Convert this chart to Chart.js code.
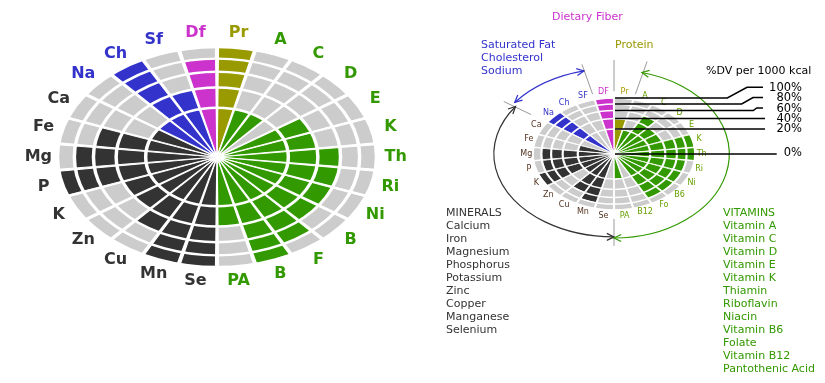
<!DOCTYPE html>
<html><head><meta charset="utf-8">
<script src="https://cdn.jsdelivr.net/npm/chart.js@4"></script>
<style>
html,body{margin:0;padding:0;background:#fff;width:825px;height:383px;overflow:hidden;font-family:"DejaVu Sans",Verdana,sans-serif;}
canvas{position:absolute;}
#c1{left:0;top:0;}
#c2{left:440px;top:0;}
.t{position:absolute;font-size:11px;line-height:13px;white-space:nowrap;}
</style></head><body>
<canvas id="c1" width="440" height="320"></canvas>
<canvas id="c2" width="385" height="383"></canvas>
<div class="t" id="fib" style="left:552px;top:10px;color:#cc33cc">Dietary Fiber</div>
<div class="t" id="pro" style="left:615px;top:38px;color:#999900">Protein</div>
<div class="t" id="lim" style="left:481px;top:38px;color:#3333cc"></div>
<div class="t" id="dv" style="left:706px;top:64px;color:#000">%DV per 1000 kcal</div>
<div class="t" id="pct" style="left:700px;top:0;width:102px;height:170px;color:#000"></div>
<div class="t" id="min" style="left:446px;top:206px;color:#333333"></div>
<div class="t" id="vit" style="left:723px;top:206px;color:#339900"></div>
<script>
// ---------- data ----------
const CATEGORIES_LEFT  = ['Pr','A','C','D','E','K','Th','Ri','Ni','B','F','B','PA','Se','Mn','Cu','Zn','K','P','Mg','Fe','Ca','Na','Ch','Sf','Df'];
const CATEGORIES_RIGHT = ['Pr','A','C','D','E','K','Th','Ri','Ni','B6','Fo','B12','PA','Se','Mn','Cu','Zn','K','P','Mg','Fe','Ca','Na','Ch','SF','DF'];
const GROUPS = ['protein','vitamin','vitamin','vitamin','vitamin','vitamin','vitamin','vitamin','vitamin','vitamin','vitamin','vitamin','vitamin',
                'mineral','mineral','mineral','mineral','mineral','mineral','mineral','mineral','mineral','limit','limit','limit','fiber'];
const VALUES_LEFT  = [100,20,20,0,40,40,60,60,60,60,80,100,40, 100,100,60,40,40,100,80,60,20, 20,100,40,80];
const VALUES_RIGHT = [40,20,60,40,40,100,100,80,80,80,80,0,20, 0,80,60,20,100,80,80,20,0, 100,0,0,100];
const RING_TICKS = [0,20,40,60,80,100];
const PCT_LABELS = ['100%','80%','60%','40%','20%','0%'];
const PCT_VALUES = [100,80,60,40,20,0];
const LIMIT_NAMES = ['Saturated Fat','Cholesterol','Sodium'];
const MINERAL_NAMES = ['MINERALS','Calcium','Iron','Magnesium','Phosphorus','Potassium','Zinc','Copper','Manganese','Selenium'];
const VITAMIN_NAMES = ['VITAMINS','Vitamin A','Vitamin C','Vitamin D','Vitamin E','Vitamin K','Thiamin','Riboflavin','Niacin','Vitamin B6','Folate','Vitamin B12','Pantothenic Acid'];

const FILL = {protein:'#999900', vitamin:'#339900', mineral:'#333333', limit:'#3333cc', fiber:'#cc33cc'};
const LABEL_L = {protein:'#999900', vitamin:'#339900', mineral:'#333333', limit:'#3333cc', fiber:'#cc33cc'};
const LABEL_R = {protein:'#b39900', vitamin:'#66a000', mineral:'#553322', limit:'#3333cc', fiber:'#cc33cc'};
const SX = 1.45;

document.getElementById('lim').innerHTML = LIMIT_NAMES.join('<br>');
document.getElementById('min').innerHTML = MINERAL_NAMES.join('<br>');
document.getElementById('vit').innerHTML = VITAMIN_NAMES.join('<br>');

function ellipse(sx){return {id:'ellipse',
  beforeDraw(ch){const s=ch.scales.r,c=ch.ctx;c.save();c.translate(s.xCenter,0);c.scale(sx,1);c.translate(-s.xCenter,0);},
  afterDraw(ch){ch.ctx.restore();}};}

function pt(s,theta,f,fx){const R=s.drawingArea;return [s.xCenter+Math.sin(theta)*R*SX*(fx||f), s.yCenter-Math.cos(theta)*R*f];}

function labels(cats,colors,font,fx,fy){return {id:'lbl',afterDraw(ch){
  const s=ch.scales.r,c=ch.ctx,arcs=ch.getDatasetMeta(1).data;
  c.save();c.font=font;c.textAlign='center';c.textBaseline='middle';
  cats.forEach((t,i)=>{const a=arcs[2*i];const th=(a.startAngle+a.endAngle)/2+Math.PI/2;const p=pt(s,th,fy,fx);
    c.fillStyle=colors[GROUPS[i]];c.fillText(t,p[0],p[1]);});
  c.restore();}};}

function wheel(id,cats,vals,gap,bw,gw,pad,extra,lblColors,font,fx,fy){
  const plugins=[ellipse(SX),labels(cats,lblColors,font,fx,fy)];
  if(extra)plugins.push(extra);
  const n=cats.length, segAngle=360/n-gap;
  const angleFn=ctx=>ctx.dataIndex%2?gap:segAngle;
  const bwFn=ctx=>ctx.dataIndex%2?0:bw;
  return new Chart(document.getElementById(id),{
    type:'polarArea',
    data:{labels:cats.flatMap(c=>[c,'']),datasets:[
      {data:vals.flatMap(v=>[Math.sqrt(Math.min(v,100)),0]),backgroundColor:GROUPS.flatMap(g=>[FILL[g],'rgba(0,0,0,0)']),borderColor:'#ffffff',borderWidth:bwFn,angle:angleFn,order:1},
      {data:cats.flatMap(()=>[Math.sqrt(100),0]),backgroundColor:'#cccccc',borderColor:'#ffffff',borderWidth:bwFn,angle:angleFn,order:2}
    ]},
    options:{responsive:false,animation:false,devicePixelRatio:1,layout:{padding:pad},
      plugins:{legend:{display:false},tooltip:{enabled:false}},
      scales:{r:{min:0,max:10,startAngle:gap/2,ticks:{display:false},
        grid:{color:'#ffffff',lineWidth:gw,circular:true,z:1},angleLines:{display:false},pointLabels:{display:false},
        afterBuildTicks:sc=>{sc.ticks=RING_TICKS.map(v=>({value:Math.sqrt(v)}));}}}},
    plugins});
}

wheel('c1',CATEGORIES_LEFT,VALUES_LEFT,1.0,1,2.4,{top:47,bottom:53,left:101,right:107},null,LABEL_L,'bold 16px "DejaVu Sans"',1.12,1.135);

const annot={id:'annot',afterDraw(ch){
  const s=ch.scales.r,c=ch.ctx,n=CATEGORIES_RIGHT.length,step=2*Math.PI/n;
  const cx=s.xCenter,cy=s.yCenter,R=s.drawingArea;
  c.save();
  c.strokeStyle='#999999';c.lineWidth=1;
  [[0,1.12,1.68],[step,1.1,1.7],[-step,1.1,1.65],[-4*step,1.24,1.65],[Math.PI,1.16,1.64]].forEach(([th,a,b])=>{
    const p=pt(s,th,a),q=pt(s,th,b);c.beginPath();c.moveTo(p[0],p[1]);c.lineTo(q[0],q[1]);c.stroke();});
  function arc(col,rx,ry,t1,t2,ccw,heads){
    c.strokeStyle=col;c.lineWidth=1.2;c.beginPath();c.ellipse(cx,cy,rx,ry,0,t1-Math.PI/2,t2-Math.PI/2,ccw);c.stroke();
    heads.forEach(([t,dir])=>{const a=t-Math.PI/2;const x=cx+rx*Math.cos(a),y=cy+ry*Math.sin(a);
      let tx=-rx*Math.sin(a),ty=ry*Math.cos(a);const L=Math.hypot(tx,ty);tx=tx/L*dir;ty=ty/L*dir;
      const h=8,w=0.45;c.beginPath();
      c.moveTo(x-h*(tx*Math.cos(w)-ty*Math.sin(w)),y-h*(ty*Math.cos(w)+tx*Math.sin(w)));c.lineTo(x,y);
      c.lineTo(x-h*(tx*Math.cos(-w)-ty*Math.sin(-w)),y-h*(ty*Math.cos(-w)+tx*Math.sin(-w)));c.stroke();});
  }
  const d2r=Math.PI/180;
  arc('#3333cc',R*SX*1.53,R*1.53,-14*d2r,-53*d2r,true,[[-14*d2r,1],[-53*d2r,-1]]);
  arc('#333333',R*SX*1.48,R*1.48,-55*d2r,-180*d2r,true,[[-55*d2r,1],[-180*d2r,-1]]);
  arc('#339900',R*1.42*SX,R*1.5,14*d2r,180*d2r,false,[[14*d2r,-1],[180*d2r,1]]);
  c.strokeStyle='#000';c.lineWidth=1.5;
  const kinks={100:[[323,87.3],[307,87.3],[287.3,null]],80:[[323,97.5],[313,97.5],[301.7,null]],60:[[323,108],[316.7,108],[313.3,null]],40:[[325,null]],20:[[325,null]],0:[[336.7,null]]};
  PCT_VALUES.forEach(v=>{const y=cy-s.getDistanceFromCenterForValue(Math.sqrt(v));
    c.beginPath();kinks[v].forEach((p,k)=>{const py=p[1]===null?y:p[1];k?c.lineTo(p[0],py):c.moveTo(p[0],py);});c.lineTo(cx+1,y);c.stroke();});
  c.restore();
}};
wheel('c2',CATEGORIES_RIGHT,VALUES_RIGHT,0.8,0.8,1.5,{top:98,bottom:173,left:114,right:151},annot,LABEL_R,'8px "DejaVu Sans"',1.08,1.11);

const pct=document.getElementById('pct');
const PCT_Y=[87.3,97.5,108,118.3,128.3,152.7];
PCT_LABELS.forEach((t,i)=>{const d=document.createElement('div');d.className='t';d.style.right='0';d.style.top=(PCT_Y[i]-6.5)+'px';d.style.fontSize='11.5px';d.textContent=t;pct.appendChild(d);});
</script>
</body></html>
